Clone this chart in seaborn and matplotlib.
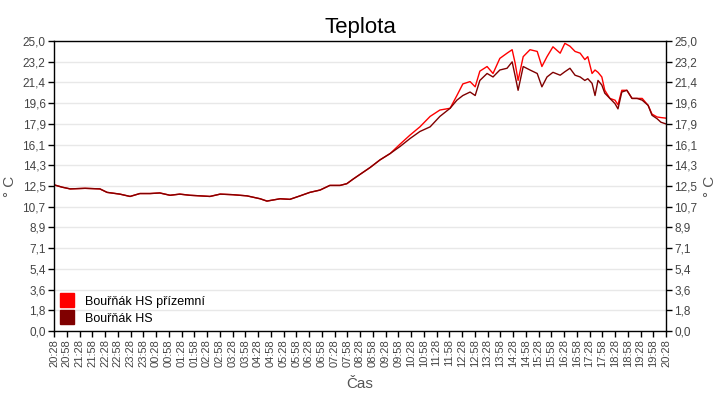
import pandas as pd
import matplotlib.pyplot as plt
import seaborn as sns
from matplotlib.lines import Line2D

# minutes since 20:28 for each reading
minutes = [0, 19, 38, 73, 108, 125, 155, 179, 202, 226, 249, 273, 296, 320, 344, 367,
           391, 421, 454, 485, 501, 532, 555, 579, 602, 626, 649, 673, 689, 704, 720,
           744, 767, 791, 814, 838, 861, 885, 908, 932, 948, 962, 979, 991, 1002, 1019,
           1033, 1049, 1066, 1078, 1085, 1092, 1104, 1120, 1137, 1148, 1160, 1174, 1191,
           1202, 1214, 1226, 1238, 1249, 1256, 1266, 1273, 1280, 1289, 1296, 1308, 1320,
           1327, 1336, 1348, 1360, 1372, 1384, 1398, 1407, 1419, 1428, 1440]

hs = [12.6, 12.4, 12.25, 12.3, 12.25, 11.95, 11.8, 11.6, 11.85, 11.85, 11.9, 11.7, 11.8,
      11.7, 11.65, 11.6, 11.8, 11.75, 11.65, 11.4, 11.2, 11.4, 11.35, 11.65, 11.95, 12.15,
      12.55, 12.55, 12.7, 13.1, 13.5, 14.1, 14.75, 15.3, 15.9, 16.6, 17.2, 17.6, 18.5,
      19.2, 19.9, 20.3, 20.6, 20.3, 21.6, 22.2, 21.9, 22.5, 22.65, 23.2, 22.0, 20.75,
      22.8, 22.5, 22.2, 21.05, 21.9, 22.3, 22.05, 22.35, 22.65, 22.05, 21.9, 21.6, 21.75,
      21.35, 20.3, 21.6, 21.2, 20.5, 20.05, 19.6, 19.15, 20.6, 20.75, 20.05, 20.05, 19.9,
      19.45, 18.6, 18.3, 18.0, 17.85]

hs_ground = [12.6, 12.4, 12.25, 12.3, 12.25, 11.95, 11.8, 11.6, 11.85, 11.85, 11.9, 11.7,
             11.8, 11.7, 11.65, 11.6, 11.8, 11.75, 11.65, 11.4, 11.2, 11.4, 11.35, 11.65,
             11.95, 12.15, 12.55, 12.55, 12.7, 13.1, 13.5, 14.1, 14.75, 15.3, 16.1, 16.9,
             17.6, 18.5, 19.05, 19.2, 20.3, 21.3, 21.5, 21.05, 22.4, 22.8, 22.2, 23.5, 23.95,
             24.25, 23.1, 21.6, 23.65, 24.25, 24.1, 22.8, 23.65, 24.5, 23.95, 24.8, 24.55,
             24.1, 23.95, 23.4, 23.65, 22.2, 22.5, 22.3, 21.9, 20.75, 20.05, 19.9, 19.5,
             20.75, 20.75, 20.05, 20.05, 20.05, 19.45, 18.7, 18.45, 18.4, 18.35]

x_labels = ['20:28', '20:58', '21:28', '21:58', '22:28', '22:58', '23:28', '23:58',
            '00:28', '00:58', '01:28', '01:58', '02:28', '02:58', '03:28', '03:58',
            '04:28', '04:58', '05:28', '05:58', '06:28', '06:58', '07:28', '07:58',
            '08:28', '08:58', '09:28', '09:58', '10:28', '10:58', '11:28', '11:58',
            '12:28', '12:58', '13:28', '13:58', '14:28', '14:58', '15:28', '15:58',
            '16:28', '16:58', '17:28', '17:58', '18:28', '18:58', '19:28', '19:58', '20:28']
y_labels = ['0,0', '1,8', '3,6', '5,4', '7,1', '8,9', '10,7', '12,5', '14,3', '16,1',
            '17,9', '19,6', '21,4', '23,2', '25,0']

names = ['Bouřňák HS přízemní', 'Bouřňák HS']
colors = ['#ff0000', '#800000']

df = pd.DataFrame({
    'min': minutes * 2,
    'temp': hs_ground + hs,
    'series': [names[0]] * len(minutes) + [names[1]] * len(minutes),
})

sns.set_style('white')
plt.rcParams['font.family'] = ['Liberation Sans', 'DejaVu Sans']

fig = plt.figure(figsize=(7.2, 4.0), dpi=100)
ax = fig.add_axes([0.075, 0.1725, 0.85, 0.725])
sns.lineplot(data=df, x='min', y='temp', hue='series', hue_order=names,
             palette=colors, linewidth=1, ax=ax, legend=False)

ymax = 25.0
yticks = [i * ymax / 14 for i in range(15)]
ax.set_xlim(0, 1440)
ax.set_ylim(0, ymax)
ax.set_xticks(range(0, 1441, 30))
ax.set_xticklabels(x_labels, rotation=90, fontsize=8, color='#444444')
ax.set_yticks(yticks)
ax.set_yticklabels(y_labels, fontsize=8.5, color='#444444')
ax.yaxis.grid(True, color='#e8e8e8', linewidth=1)
ax.tick_params(axis='both', direction='out', length=4, width=1, color='black',
               bottom=True, left=True, pad=2)
for s in ax.spines.values():
    s.set_color('black')
    s.set_linewidth(1)

ax.set_xlabel('Čas', fontsize=11, color='#555555', labelpad=7)
ax.set_ylabel('° C', fontsize=11, color='#555555', labelpad=4)
ax.set_title('Teplota', fontsize=16, pad=6, color='black')

ax2 = ax.twinx()
ax2.set_ylim(0, ymax)
ax2.set_yticks(yticks)
ax2.set_yticklabels(y_labels, fontsize=8.5, color='#444444')
ax2.tick_params(axis='y', direction='out', length=4, width=1, color='black', right=True, pad=2)
ax2.set_ylabel('° C', fontsize=11, color='#555555', labelpad=4)
for s in ax2.spines.values():
    s.set_visible(False)

handles = [Line2D([], [], marker='s', linestyle='none', markersize=10, color=c) for c in colors]
leg = ax.legend(handles, names, loc='lower left', frameon=False, fontsize=9,
                handlelength=1.1, handletextpad=0.9, labelspacing=0.4,
                borderaxespad=0.2, borderpad=0.3)
for t in leg.get_texts():
    t.set_color('black')

fig.savefig('out.png', dpi=100)
